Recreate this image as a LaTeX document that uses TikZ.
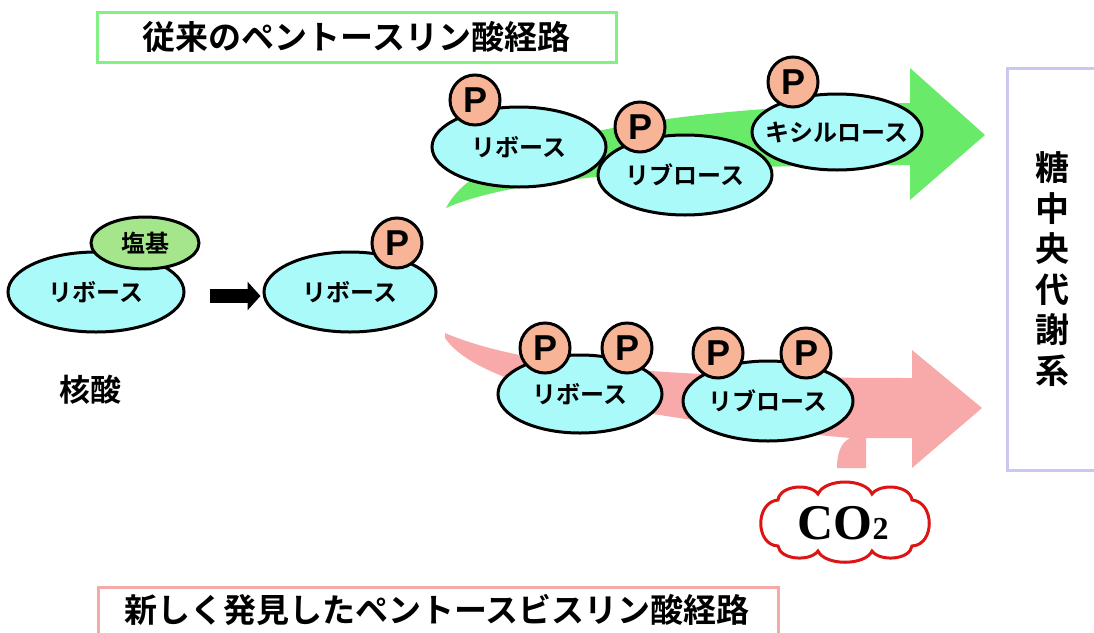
\documentclass[tikz,border=0pt]{standalone}
\usepackage{fontspec}
\newfontfamily\jp{Noto Sans CJK JP Bold}
\newfontfamily\pfont{Liberation Sans}
\newfontfamily\serifb{Liberation Serif}
\usetikzlibrary{shapes.geometric,arrows.meta}
\definecolor{cyanfill}{RGB}{170,250,250}
\definecolor{pfill}{RGB}{248,180,150}
\definecolor{basefill}{RGB}{165,230,140}
\definecolor{garrow}{RGB}{105,235,105}
\definecolor{parrow}{RGB}{248,170,170}
\definecolor{gbox}{RGB}{130,240,130}
\definecolor{pbox}{RGB}{245,170,170}
\definecolor{lbox}{RGB}{200,200,242}
\definecolor{cloudred}{RGB}{220,20,20}
\tikzset{
  sugar/.style={ellipse, draw=black, line width=3pt, fill=cyanfill, inner sep=0pt,
    font=\jp\fontsize{24}{24}\selectfont},
  basenode/.style={ellipse, draw=black, line width=3pt, fill=basefill, inner sep=0pt,
    font=\jp\fontsize{24}{24}\selectfont},
  phos/.style={circle, draw=black, line width=3pt, fill=pfill, minimum size=50pt, inner sep=0pt,
    font=\pfont\bfseries\fontsize{36}{36}\selectfont},
  titlebox/.style={line width=3pt, fill=white, inner sep=0pt, minimum height=50pt,
    font=\jp\fontsize{33}{33}\selectfont},
  blockarrow/.style={line width=14pt, -{Triangle[length=13pt,width=28pt]}},
}
\begin{document}
\begin{tikzpicture}[x=1pt,y=-1pt]
\useasboundingbox (0,0) rectangle (1094,632);
% big arrows
\fill[garrow] (446,208) .. controls (470,160) and (580,108) .. (910,103) -- (910,68) -- (985,135) -- (910,200) -- (910,165) .. controls (700,165) and (520,175) .. (446,208) -- cycle;
\fill[parrow] (445,333) .. controls (520,365) and (650,378) .. (912,378) -- (912,350) -- (982,408) -- (912,468) -- (912,438) -- (866,438) -- (866,468) -- (837,468) .. controls (837,455) and (840,443) .. (850,438) .. controls (650,420) and (480,390) .. (445,338) -- cycle;
% titles
\node[titlebox, draw=gbox, minimum width=519pt] (t1) at (356.5,37) {従来のペントースリン酸経路};
\node[titlebox, draw=pbox, minimum width=680pt, minimum height=60pt, anchor=north west] (t2) at (97,586) {};
\node[font=\jp\fontsize{33}{33}\selectfont] (t2txt) at (437,610) {新しく発見したペントースビスリン酸経路};
\node[draw=lbox, line width=3pt, minimum width=90pt, minimum height=402pt, inner sep=0pt,
  align=center, font=\jp\fontsize{34}{40.5}\selectfont] (sys) at (1052,269) {糖\\中\\央\\代\\謝\\系};
% nucleic acid
\node[sugar, minimum width=176pt, minimum height=80pt] (r0) at (96,292) {リボース};
\node[basenode, minimum width=108pt, minimum height=52pt] (b0) at (145,243) {塩基};
\node[font=\jp\fontsize{31}{31}\selectfont] (nuc) at (90,390) {核酸};
\node[sugar, minimum width=172pt, minimum height=80pt] (r1) at (350,292) {リボース};
\node[phos] (p1) at (397,243) {P};
\draw[blockarrow, shorten <=24pt, shorten >=2pt] ([yshift=-4pt]r0.east) -- ([yshift=-4pt]r1.west);
% top pathway
\node[sugar, minimum width=174pt, minimum height=80pt] (ta) at (519,147) {リボース};
\node[phos] (tap) at (475,100) {P};
\node[sugar, minimum width=174pt, minimum height=80pt] (tb) at (685,175) {リブロース};
\node[phos] (tbp) at (640,127) {P};
\node[sugar, minimum width=170pt, minimum height=76pt] (tc) at (837,132) {\makebox[100pt]{キシルロース}};
\node[phos] (tcp) at (793,82) {P};
% bottom pathway
\node[sugar, minimum width=164pt, minimum height=78pt] (ba) at (580,394) {リボース};
\node[phos] (bap1) at (545,348) {P};
\node[phos] (bap2) at (627,348) {P};
\node[sugar, minimum width=170pt, minimum height=80pt] (bb) at (768,401) {リブロース};
\node[phos] (bbp1) at (718,353) {P};
\node[phos] (bbp2) at (806,353) {P};
% CO2 cloud
\filldraw[draw=cloudred, fill=white, line width=3pt]
  (778,500) .. controls (780,485) and (810,483) .. (818,494)
  .. controls (825,478) and (865,478) .. (872,494)
  .. controls (880,483) and (910,485) .. (912,500)
  .. controls (935,502) and (935,545) .. (912,546)
  .. controls (910,560) and (880,562) .. (872,551)
  .. controls (865,566) and (825,566) .. (818,551)
  .. controls (810,562) and (780,560) .. (778,546)
  .. controls (755,545) and (755,502) .. (778,500) -- cycle;
\node[font=\serifb\bfseries\fontsize{50}{50}\selectfont, inner sep=0pt] (co2) at (843,523) {CO{\fontsize{32}{32}\selectfont 2}};
\end{tikzpicture}
\end{document}
